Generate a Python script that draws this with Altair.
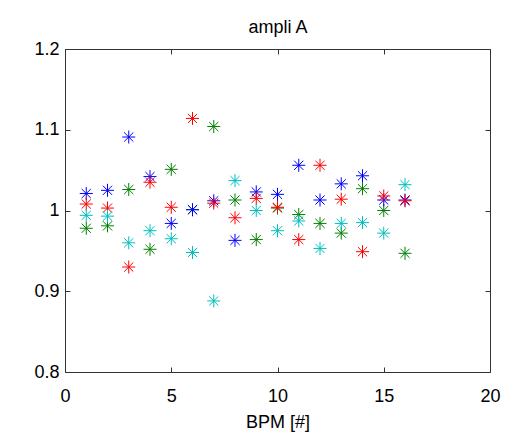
import altair as alt
import pandas as pd

bpm = list(range(1, 17))
series_names = ["green", "blue", "red", "cyan"]
series_colors = ["#008000", "#0000ff", "#ff0000", "#00bfbf"]

green = [0.978, 0.981, 1.026, 0.952, 1.051, 1.001, 1.104, 1.013, 0.964, 1.003, 0.995, 0.984, 0.972, 1.027, 1.000, 0.947]
blue = [1.021, 1.025, 1.091, 1.042, 0.984, 1.001, 1.012, 0.963, 1.023, 1.020, 1.056, 1.013, 1.033, 1.043, 1.013, 1.013]
red = [1.008, 1.003, 0.930, 1.035, 1.004, 1.114, 1.009, 0.991, 1.015, 1.004, 0.964, 1.056, 1.014, 0.949, 1.018, 1.012]
cyan = [0.994, 0.993, 0.960, 0.975, 0.965, 0.948, 0.888, 1.037, 1.000, 0.975, 0.987, 0.953, 0.984, 0.985, 0.972, 1.032]

x_ticks = [0, 5, 10, 15, 20]
y_ticks = [0.8, 0.9, 1.0, 1.1, 1.2]
chart_title = "ampli A"

rows = []
for name, vals in zip(series_names, [green, blue, red, cyan]):
    for i, (b, v) in enumerate(zip(bpm, vals)):
        rows.append({"bpm": b, "value": v, "series": name, "k": len(rows)})
df = pd.DataFrame(rows)

FONT = "Liberation Sans"
FS = 18
asterisk = "M-1,0L1,0M0,-1L0,1M-0.707,-0.707L0.707,0.707M-0.707,0.707L0.707,-0.707"

xscale = alt.Scale(domain=[0, 20], nice=False, zero=False)
yscale = alt.Scale(domain=[0.8, 1.2], nice=False, zero=False)

points = alt.Chart(df).mark_point(
    shape=asterisk, filled=False, size=169, strokeWidth=1, opacity=1
).encode(
    x=alt.X("bpm:Q", scale=xscale, axis=alt.Axis(
        values=x_ticks, orient="bottom", offset=-5, tickSize=5, domain=False, grid=False,
        labelPadding=15, labelFlush=False, labelOverlap=False, labelFont=FONT, labelFontSize=FS,
        labelColor="black", tickColor="#333333", title="BPM [#]", titleFont=FONT,
        titleFontSize=FS, titleFontWeight="normal", titleColor="black", titlePadding=8)),
    y=alt.Y("value:Q", scale=yscale, axis=alt.Axis(
        values=y_ticks, orient="left", offset=-5, tickSize=5, domain=False, grid=False,
        labelPadding=6, labelFlush=False, labelOverlap=False, labelFont=FONT, labelFontSize=FS,
        labelColor="black", tickColor="#333333", format="~g", title=None)),
    color=alt.Color("series:N", scale=alt.Scale(domain=series_names, range=series_colors), legend=None),
    order=alt.Order("k:Q"),
)

frame = alt.Chart(df).mark_point(opacity=0).encode(
    x=alt.X("bpm:Q", scale=xscale, axis=alt.Axis(
        values=x_ticks, orient="top", offset=-5, tickSize=5, domain=False, grid=False,
        labels=False, tickColor="#333333", title=chart_title, titleFont=FONT,
        titleFontSize=FS, titleFontWeight="normal", titleColor="black", titlePadding=12)),
    y=alt.Y("value:Q", scale=yscale, axis=alt.Axis(
        values=y_ticks, orient="right", offset=-5, tickSize=5, domain=False, grid=False,
        labels=False, tickColor="#333333", title=None)),
)

chart = alt.layer(frame, points).resolve_scale(x="independent", y="independent").properties(
    width=425,
    height=323,
    autosize=alt.AutoSizeParams(type="none"),
    padding={"left": 57, "top": 41, "right": 27, "bottom": 67},
    background="white",
).configure_view(stroke="#333333", strokeWidth=1)

chart.save("out.html", embed_options={"renderer": "svg", "actions": False})
